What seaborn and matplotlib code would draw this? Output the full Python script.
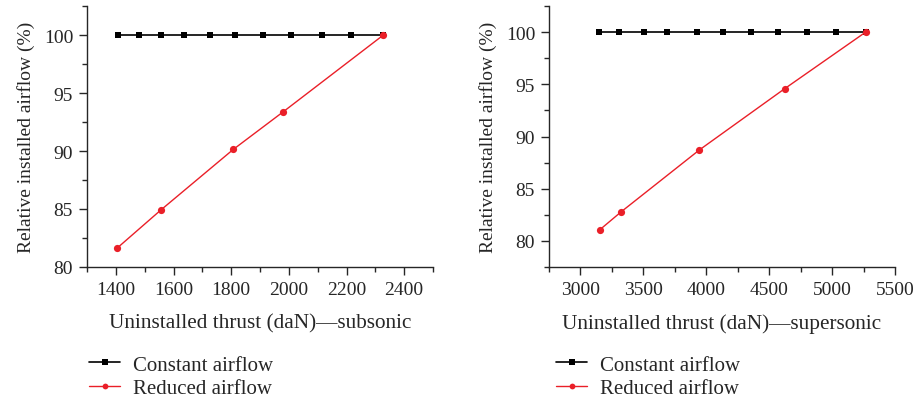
import pandas as pd
import matplotlib
matplotlib.use("Agg")
import matplotlib.pyplot as plt
from matplotlib.ticker import MultipleLocator
import seaborn as sns

# subsonic panel
sub_const_x = [1406, 1480, 1558, 1638, 1726, 1812, 1912, 2007, 2115, 2216, 2327]
sub_const_y = [100, 100, 100, 100, 100, 100, 100, 100, 100, 100, 100]
sub_red_x = [1405, 1556, 1807, 1980, 2328]
sub_red_y = [81.64, 84.91, 90.13, 93.37, 100]

# supersonic panel
sup_const_x = [3148, 3310, 3506, 3684, 3923, 4132, 4357, 4572, 4803, 5033, 5267]
sup_const_y = [100, 100, 100, 100, 100, 100, 100, 100, 100, 100, 100]
sup_red_x = [3156, 3326, 3946, 4622, 5267]
sup_red_y = [81.09, 82.81, 88.72, 94.57, 100]

series_names = ["Constant airflow", "Reduced airflow"]
xlabels = ["Uninstalled thrust (daN)\u2014subsonic", "Uninstalled thrust (daN)\u2014supersonic"]
ylabel = "Relative installed airflow (%)"


def to_frame(cx, cy, rx, ry):
    a = pd.DataFrame({"x": cx, "y": cy, "series": series_names[0]})
    b = pd.DataFrame({"x": rx, "y": ry, "series": series_names[1]})
    return pd.concat([a, b], ignore_index=True)


sns.set_style("ticks")
plt.rcParams["font.family"] = ["Liberation Serif", "DejaVu Serif"]

W, H = 920, 402
fig = plt.figure(figsize=(W / 100, H / 100), dpi=100)

panels = [
    dict(df=to_frame(sub_const_x, sub_const_y, sub_red_x, sub_red_y),
         left=87, xlim=(1300, 2500), xmin=100, ylim=(80, 102.5),
         xticks=[1400, 1600, 1800, 2000, 2200, 2400], leg_x=89),
    dict(df=to_frame(sup_const_x, sup_const_y, sup_red_x, sup_red_y),
         left=549, xlim=(2750, 5500), xmin=250, ylim=(77.5, 102.5),
         xticks=[3000, 3500, 4000, 4500, 5000, 5500], leg_x=556),
]

palette = {series_names[0]: "black", series_names[1]: "#ea1f28"}
markers = {series_names[0]: "s", series_names[1]: "o"}

for i, p in enumerate(panels):
    ax = fig.add_axes([p["left"] / W, (H - 268) / H, 346 / W, 261 / H])
    sns.lineplot(data=p["df"], x="x", y="y", hue="series", style="series",
                 palette=palette, markers=markers, dashes=False,
                 linewidth=1.0, markersize=5.2, markeredgewidth=0, ax=ax,
                 legend=True)
    for ln in ax.get_lines():
        if ln.get_marker() == "s":
            ln.set_markersize(4.6)
            ln.set_linewidth(1.2)
    ax.set_xlim(*p["xlim"])
    ax.set_ylim(*p["ylim"])
    ax.set_xticks(p["xticks"])
    ax.xaxis.set_minor_locator(MultipleLocator(p["xmin"]))
    ax.set_yticks([80, 85, 90, 95, 100])
    ax.yaxis.set_minor_locator(MultipleLocator(2.5))
    sns.despine(ax=ax)
    ax.tick_params(axis="both", which="major", labelsize=14, length=6, width=1, pad=4)
    ax.tick_params(axis="both", which="minor", length=3.5, width=1)
    ax.set_xlabel(xlabels[i], fontsize=15.3, labelpad=11)
    ax.set_ylabel(ylabel, fontsize=14, labelpad=6)
    for s in ["left", "bottom"]:
        ax.spines[s].set_linewidth(1.0)
    handles, labels = ax.get_legend_handles_labels()
    ax.get_legend().remove()
    fig.legend(handles, labels, loc="upper left",
               bbox_to_anchor=(p["leg_x"] / W, 1 - 356 / H),
               frameon=False, fontsize=15, handlelength=1.5,
               handletextpad=0.6, labelspacing=0.18, borderaxespad=0,
               borderpad=0, markerscale=0.8)

fig.savefig("out.png", dpi=100)
